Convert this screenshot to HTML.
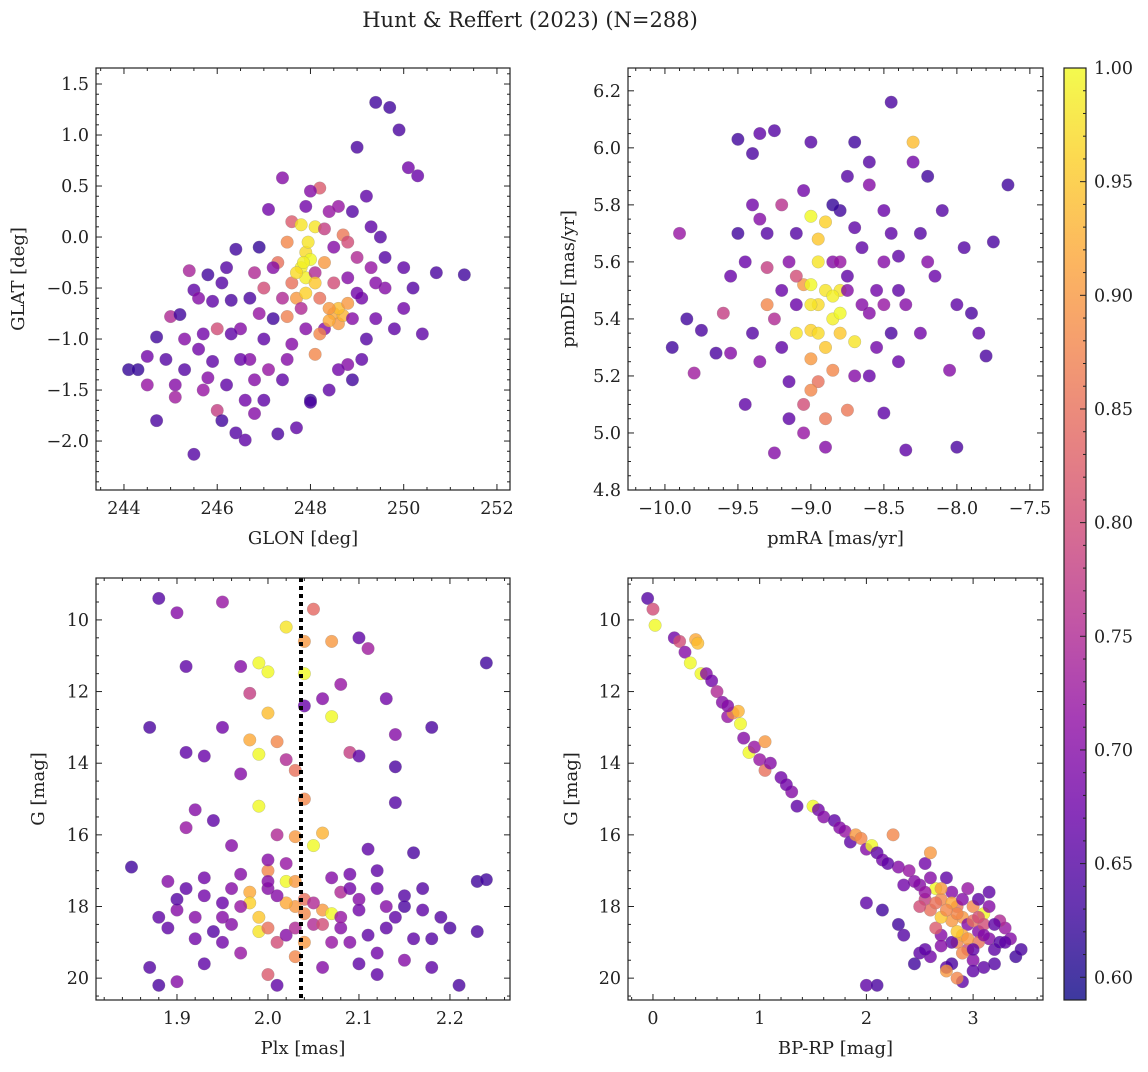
<!DOCTYPE html>
<html><head><meta charset="utf-8"><style>
body{margin:0;background:#fff;}
svg text{font-family:"DejaVu Serif","Liberation Serif",serif;fill:#222;}
</style></head><body>
<svg id="fig" width="1148" height="1067" viewBox="0 0 1148 1067" xmlns="http://www.w3.org/2000/svg">
<defs>
<linearGradient id="plasma" x1="0" y1="1" x2="0" y2="0">
<stop offset="0" stop-color="#0d0887"/><stop offset="0.1" stop-color="#41049d"/><stop offset="0.2" stop-color="#6a00a8"/><stop offset="0.3" stop-color="#8f0da4"/><stop offset="0.4" stop-color="#b12a90"/><stop offset="0.5" stop-color="#cc4778"/><stop offset="0.6" stop-color="#e16462"/><stop offset="0.7" stop-color="#f2844b"/><stop offset="0.8" stop-color="#fca636"/><stop offset="0.9" stop-color="#fcce25"/><stop offset="1" stop-color="#f0f921"/>
</linearGradient>
</defs>
<text x="530" y="27" font-size="21" text-anchor="middle">Hunt &amp; Reffert (2023) (N=288)</text>
</svg>
<script>
// ---- data ----
const p1Glon=[244.1,244.3,244.5,244.5,244.7,244.7,244.9,245.0,245.1,245.1,245.2,245.3,245.4,245.5,245.5,245.6,245.6,245.7,245.8,245.8,245.9,246.0,246.0,246.1,246.1,246.2,246.3,246.4,246.4,246.5,246.6,246.6,246.7,246.7,246.8,246.8,246.9,247.0,247.0,247.1,247.1,247.2,247.3,247.3,247.4,247.4,247.5,247.5,247.6,247.6,247.7,247.7,247.8,247.8,247.9,247.9,247.9,248.0,248.0,248.1,248.1,248.2,248.2,248.3,248.3,248.4,248.4,248.5,248.5,248.6,248.7,248.7,248.8,248.8,248.9,248.9,249.0,249.0,249.1,249.2,249.2,249.3,249.4,249.4,249.5,249.6,249.7,249.8,249.9,250.0,250.1,250.2,250.3,250.4,250.7,251.3,248.2,248.4,248.6,248.0,246.9,245.9,249.0,248.8,247.6,247.8,246.5,248.3,
247.2,247.4,247.9,248.1,248.5,248.9,249.3,249.6,248.6,247.9,246.3,246.8,245.7,247.0,248.6,249.1,247.5,250.0,246.2,248.0,247.85,247.95,247.7,248.1,248.4,248.8,245.3,249.4];
const p1Glat=[-1.3,-1.3,-1.17,-1.45,-0.98,-1.8,-1.2,-0.78,-1.45,-1.57,-0.76,-1.0,-0.33,-2.13,-0.52,-1.1,-0.6,-1.5,-0.37,-1.38,-0.63,-0.9,-1.7,-1.8,-0.45,-1.45,-0.62,-1.92,-0.12,-0.9,-1.6,-1.99,-1.2,-0.6,-1.73,-0.35,-0.1,-0.5,-1.0,0.27,-1.3,-0.8,-1.93,-0.25,-1.4,0.58,-0.05,-0.78,-1.05,0.15,-1.87,-0.6,0.12,-0.3,-0.15,-0.4,-0.55,-0.22,-1.6,0.1,-1.15,-0.6,0.48,-0.25,-0.9,0.25,-1.5,-0.75,-0.1,-0.85,-0.77,0.02,-0.4,-1.25,-1.4,0.25,0.88,-0.2,-0.6,-1.0,0.4,-0.3,1.32,-0.8,0.0,-0.5,1.27,-0.9,1.05,-0.3,0.68,-0.5,0.6,-0.95,-0.35,-0.37,-0.95,-0.82,-0.7,-1.62,-0.75,-1.22,-0.55,-0.05,-0.45,-0.7,-1.2,0.08,
-0.3,-0.6,-0.9,-0.35,-0.45,-0.8,0.1,-0.2,0.3,0.3,-0.95,-1.4,-0.95,-1.6,-1.3,-1.2,-1.2,-0.7,-0.3,0.45,-0.25,-0.05,-0.35,-0.45,-0.7,-0.65,-1.3,-0.45];
const p1Prob=[.62,.62,.68,.72,.63,.64,.65,.75,.7,.73,.63,.7,.74,.65,.66,.68,.7,.72,.63,.7,.66,.8,.78,.63,.65,.66,.64,.65,.63,.7,.68,.66,.7,.64,.7,.75,.62,.8,.66,.68,.72,.63,.64,.85,.66,.7,.88,.87,.7,.82,.66,.9,.98,.99,.97,.99,.96,1.0,.62,.98,.88,.85,.82,.9,.7,.72,.66,.92,.7,.9,.93,.86,.7,.7,.63,.65,.64,.75,.68,.65,.66,.72,.63,.68,.65,.7,.63,.66,.64,.66,.68,.65,.67,.66,.64,.63,.88,.92,.94,.64,.72,.66,.68,.8,.85,.75,.67,.78,
.7,.75,.7,.75,.8,.7,.66,.65,.72,.68,.66,.7,.68,.66,.68,.66,.7,.68,.65,.7,.99,.98,.97,.95,.9,.9,.65,.7];

const p2Pmra=[-9.95,-9.9,-9.85,-9.8,-9.75,-9.6,-9.55,-9.55,-9.5,-9.5,-9.45,-9.4,-9.4,-9.35,-9.35,-9.35,-9.3,-9.3,-9.25,-9.25,-9.2,-9.2,-9.15,-9.1,-9.1,-9.05,-9.05,-9.05,-9.0,-9.0,-9.0,-9.0,-8.95,-8.95,-8.95,-8.9,-8.9,-8.9,-8.9,-8.85,-8.85,-8.8,-8.8,-8.8,-8.75,-8.75,-8.7,-8.7,-8.65,-8.6,-8.6,-8.55,-8.5,-8.5,-8.45,-8.4,-8.4,-8.35,-8.3,-8.3,-8.25,-8.2,-8.15,-8.1,-8.05,-8.0,-7.95,-7.9,-7.85,-7.8,-7.75,-7.65,-8.35,-8.0,-8.45,-8.75,-9.15,-8.6,-8.85,-9.1,-8.5,-8.7,-9.4,-8.2,-8.5,-9.65,-9.2,-8.95,-8.85,-9.0,-8.8,
-9.0,-8.95,-8.85,-9.1,-8.8,-8.65,-9.25,-8.7,-8.4,-9.45,-8.25,-8.6,-9.0,-8.9,-9.05,-8.45,-9.3,-8.75,-8.55,-9.15];
const p2Pmde=[5.3,5.7,5.4,5.21,5.36,5.42,5.28,5.55,6.03,5.7,5.1,5.35,5.98,6.05,5.75,5.25,5.45,5.58,4.93,6.06,5.5,5.8,5.18,5.35,5.7,5.52,5.1,5.0,5.76,5.36,5.26,6.02,5.68,5.45,5.18,5.74,5.5,5.3,4.95,5.4,5.6,5.35,5.42,5.78,5.08,5.55,5.32,6.02,5.65,5.2,5.87,5.5,5.78,5.07,5.35,5.62,5.25,5.45,5.95,6.02,5.7,5.9,5.55,5.78,5.22,5.45,5.65,5.42,5.35,5.27,5.67,5.87,4.94,4.95,6.16,5.9,5.6,5.42,5.22,5.45,5.6,5.72,5.8,5.6,5.45,5.28,5.3,5.6,5.8,5.52,5.5,
5.45,5.35,5.48,5.55,5.6,5.45,5.4,5.2,5.5,5.6,5.35,5.95,5.15,5.05,5.85,5.7,5.7,5.5,5.3,5.05];
const p2Prob=[.63,.72,.63,.73,.64,.78,.7,.67,.63,.63,.66,.65,.64,.66,.7,.7,.88,.78,.7,.65,.67,.76,.66,.98,.65,.9,.8,.72,1.0,.96,.9,.65,.95,.97,.85,.96,.98,.95,.7,.99,.7,.95,1.0,.63,.86,.66,.98,.63,.66,.67,.7,.68,.67,.66,.64,.66,.67,.7,.68,.94,.65,.63,.67,.65,.7,.66,.65,.64,.66,.64,.64,.63,.66,.64,.64,.65,.7,.7,.88,.67,.7,.66,.68,.7,.72,.64,.66,.98,.62,1.0,.98,
.98,.97,.99,.8,.72,.7,.75,.7,.66,.67,.68,.65,.88,.86,.68,.66,.65,.7,.68,.66];

const p3Plx=[1.88,1.9,1.95,2.02,2.05,2.04,2.07,1.99,2.0,1.91,1.97,2.04,2.1,2.11,2.24,1.98,2.0,2.08,2.07,2.04,2.13,1.87,1.95,2.01,1.98,2.09,2.06,2.18,2.14,1.91,1.93,1.99,2.02,2.03,2.1,2.14,1.97,1.92,1.99,2.04,2.14,1.91,1.94,1.96,2.01,2.03,2.06,2.05,1.85,1.89,1.91,1.93,1.95,1.97,1.98,2.0,2.0,2.02,2.03,2.04,2.06,2.07,2.08,2.09,2.1,2.11,2.12,2.13,2.14,2.15,2.16,2.17,2.19,2.2,2.23,2.24,2.23,1.88,1.9,1.92,1.94,1.96,1.99,2.01,2.02,2.04,2.05,2.07,2.08,2.1,2.12,2.15,2.18,2.21,1.88,1.9,1.87,1.93,2.0,2.01,2.06,2.12,1.99,2.02,1.97,2.03,2.09,1.95,2.16,
1.93,1.96,1.98,2.0,2.01,2.03,2.05,2.06,2.08,2.1,2.11,2.12,2.13,1.9,1.92,1.95,1.97,2.0,2.02,2.07,2.15,2.18,1.89,2.04,2.09,2.03,2.17,2.0];
const p3G=[9.4,9.8,9.5,10.2,9.7,10.6,10.6,11.2,11.45,11.3,11.3,11.5,10.5,10.8,11.2,12.05,12.6,11.8,12.7,12.4,12.2,13.0,13.0,13.4,13.35,13.7,12.2,13.0,13.2,13.7,13.8,13.75,13.9,14.2,13.8,14.1,14.3,15.3,15.2,15.0,15.1,15.8,15.6,16.3,16.0,16.05,15.95,16.3,16.9,17.3,17.5,17.7,17.9,17.1,17.6,17.5,17.0,17.3,18.0,17.8,18.1,18.2,17.6,17.1,17.8,16.4,17.5,18.0,18.3,17.7,16.5,18.1,18.3,18.6,17.3,17.25,18.7,18.3,18.1,18.9,18.7,18.5,18.3,19.0,18.8,19.0,18.5,19.0,18.6,19.6,19.3,19.5,19.7,20.2,20.2,20.1,19.7,19.6,19.9,20.2,19.7,19.9,18.7,17.9,19.3,19.4,19.0,18.3,18.9,
17.2,17.5,17.9,18.6,17.7,17.3,17.9,18.5,18.3,18.1,18.8,17.0,18.6,17.8,18.3,19.0,18.0,17.3,16.8,17.2,18.0,18.9,18.6,18.2,17.5,18.6,17.5,16.7];
const p3Prob=[.65,.7,.72,.98,.84,.9,.9,1.0,1.0,.66,.7,1.0,.66,.73,.63,.78,.94,.72,1.0,.67,.68,.64,.68,.88,.92,.78,.7,.64,.7,.66,.67,1.0,.75,.85,.66,.64,.7,.7,1.0,.88,.65,.72,.66,.7,.75,.9,.93,1.0,.63,.7,.66,.68,.67,.7,.92,.7,.88,1.0,.9,.85,.9,1.0,.75,.68,.7,.66,.67,.7,.66,.65,.64,.66,.65,.64,.63,.63,.64,.66,.7,.68,.65,.7,.95,.8,.7,.9,.75,.72,.7,.66,.68,.7,.66,.64,.64,.7,.65,.66,.82,.66,.7,.66,.98,.92,.72,.88,.7,.7,.66,
.68,.7,.96,.85,.7,.9,.75,.8,.72,.68,.66,.66,.66,.65,.7,.68,.72,.7,.72,.7,.64,.65,.66,.88,.68,.75,.65,.7];
const p3Line=2.0363;

const p4Bprp=[-0.05,0.0,0.02,0.2,0.25,0.3,0.35,0.4,0.42,0.45,0.5,0.55,0.6,0.65,0.7,0.75,0.8,0.82,0.85,0.9,0.95,1.0,1.05,1.05,1.1,1.2,1.3,1.35,1.5,1.55,1.6,1.7,1.8,1.85,1.9,1.95,2.0,2.05,2.1,2.15,2.25,2.3,2.4,2.5,2.55,2.6,2.65,2.7,2.75,2.8,2.85,2.9,2.95,3.0,3.05,3.1,3.15,3.2,3.3,3.4,3.45,2.0,2.15,2.3,2.35,2.45,2.5,2.6,2.7,2.75,2.8,2.9,2.95,3.0,3.05,3.1,3.2,3.25,2.85,2.65,2.55,2.95,3.05,2.8,3.15,2.0,2.1,2.75,2.85,3.0,2.6,2.7,2.9,3.1,2.55,3.35,
2.6,2.7,2.8,2.85,2.9,3.0,2.95,3.1,3.2,3.25,2.75,2.65,2.9,3.0,2.8,3.15,3.3,2.5,2.45,2.55,2.35,2.2,1.75,1.25,0.7,2.85,3.05,2.7];
const p4G=[9.4,9.7,10.15,10.5,10.6,10.9,11.2,10.55,10.65,11.5,11.5,11.7,12.0,12.3,12.7,12.6,12.55,12.9,13.3,13.7,13.55,13.9,13.4,14.2,14.0,14.4,14.8,15.2,15.2,15.3,15.5,15.6,15.9,16.2,16.0,16.1,16.4,16.3,16.5,16.7,16.0,16.9,17.0,17.4,16.8,16.5,17.5,17.8,17.2,17.6,18.0,18.3,18.5,18.0,18.7,18.2,18.9,19.2,18.6,19.4,19.2,17.9,18.1,18.5,18.8,19.6,19.3,19.4,18.8,19.7,19.6,20.1,19.2,19.5,19.0,19.7,19.6,18.4,19.0,18.6,17.8,17.5,17.8,18.4,18.0,20.2,20.2,19.8,20.0,19.8,18.1,18.3,18.8,18.5,19.2,18.9,
17.2,17.5,17.9,18.2,17.8,18.4,18.9,18.8,18.5,19.0,18.1,17.9,19.3,19.2,19.0,17.6,19.0,18.0,17.3,17.6,17.4,16.8,15.8,14.6,12.4,18.7,18.3,19.1];
const p4Prob=[.65,.8,1.0,.68,.8,.7,1.0,.92,.94,1.0,.7,.68,.75,.7,.72,.88,.93,1.0,.7,1.0,.72,.72,.9,.85,.7,.68,.7,.66,1.0,.68,.7,.66,.72,.66,.9,.88,.7,1.0,.66,.68,.88,.7,.72,.7,.68,.9,1.0,.88,.66,.7,.85,.9,.7,.88,.7,1.0,.7,.66,.72,.63,.64,.66,.63,.63,.65,.63,.66,.68,.7,.66,.64,.66,.8,.7,.85,.66,.65,.75,.88,.82,.78,.72,.66,.9,.7,.66,.64,.9,.88,.66,.85,.95,.92,.8,.66,.7,
.7,.9,.92,.88,.7,.85,.9,.7,.66,.65,.88,.85,.88,.66,.66,.66,.66,.8,.7,.72,.68,.66,.7,.68,.7,.95,.8,.7];

const cbTicks=[0.60,0.65,0.70,0.75,0.80,0.85,0.90,0.95,1.00];

// ---- rendering ----
const NS='http://www.w3.org/2000/svg';
const svg=document.getElementById('fig');
function mk(tag,attrs,parent){const e=document.createElementNS(NS,tag);for(const k in attrs)e.setAttribute(k,attrs[k]);(parent||svg).appendChild(e);return e;}
const stops=[[0,[13,8,135]],[.1,[65,4,157]],[.2,[106,0,168]],[.3,[143,13,164]],[.4,[177,42,144]],[.5,[204,71,120]],[.6,[225,100,98]],[.7,[242,132,75]],[.8,[252,166,54]],[.9,[252,206,37]],[1,[240,249,33]]];
const VMIN=0.59,VMAX=1.0;
function cmap(v){let t=(v-VMIN)/(VMAX-VMIN);t=Math.max(0,Math.min(1,t));for(let i=1;i<stops.length;i++){if(t<=stops[i][0]){const a=stops[i-1],b=stops[i];const f=(t-a[0])/(b[0]-a[0]);const c=a[1].map((x,j)=>Math.round(x+(b[1][j]-x)*f));return `rgb(${c})`;}}return 'rgb(240,249,33)';}
function fmt(v,d){return v.toFixed(d).replace('-','\u2212');}
const TFS=17.5, LFS=18;

function panel(cfg){
  const {name,x0,x1,y0,y1,xmin,xmax,ymin,ymax,invertY}=cfg;
  const g=mk('g',{});
  
  
  const sx=v=>x0+(v-xmin)/(xmax-xmin)*(x1-x0);
  const sy=v=>invertY? y0+(v-ymin)/(ymax-ymin)*(y1-y0) : y1-(v-ymin)/(ymax-ymin)*(y1-y0);
  const pg=mk('g',{},g);
  
  
  cfg.xs.forEach((xv,i)=>{
    const c=mk('circle',{cx:sx(xv),cy:sy(cfg.ys[i]),r:6.3,fill:cmap(cfg.ps[i]),'fill-opacity':0.8,stroke:'#888','stroke-width':0.4,'stroke-opacity':0.6},pg);
    
    
  });
  if(cfg.vline!==undefined){
    const l=mk('line',{x1:sx(cfg.vline),x2:sx(cfg.vline),y1:y0,y2:y1,stroke:'#000','stroke-width':4,'stroke-dasharray':'4 4'},g);
    
    
  }
  const fr=mk('rect',{x:x0,y:y0,width:x1-x0,height:y1-y0,fill:'none',stroke:'#222','stroke-width':1.2},g);
  
  
  const eps=1e-9;
  for(let v=Math.ceil(xmin/cfg.xminor-eps)*cfg.xminor; v<=xmax+eps; v+=cfg.xminor){
    const X=sx(v);const major=Math.abs(v/cfg.xmajor-Math.round(v/cfg.xmajor))<1e-6;const L=major?6:3;
    mk('line',{x1:X,x2:X,y1:y1,y2:y1-L,stroke:'#222','stroke-width':1},g);
    mk('line',{x1:X,x2:X,y1:y0,y2:y0+L,stroke:'#222','stroke-width':1},g);
    if(major){const t=mk('text',{x:X,y:y1+24,'font-size':TFS,'text-anchor':'middle'},g);t.textContent=fmt(v,cfg.xdec);
      }
  }
  const ylo=Math.min(ymin,ymax),yhi=Math.max(ymin,ymax);
  for(let v=Math.ceil(ylo/cfg.yminor-eps)*cfg.yminor; v<=yhi+eps; v+=cfg.yminor){
    const Y=sy(v);const major=Math.abs(v/cfg.ymajor-Math.round(v/cfg.ymajor))<1e-6;const L=major?6:3;
    mk('line',{x1:x0,x2:x0+L,y1:Y,y2:Y,stroke:'#222','stroke-width':1},g);
    mk('line',{x1:x1,x2:x1-L,y1:Y,y2:Y,stroke:'#222','stroke-width':1},g);
    if(major){const t=mk('text',{x:x0-7,y:Y+6,'font-size':TFS,'text-anchor':'end'},g);t.textContent=fmt(v,cfg.ydec);
      }
  }
  const xl=mk('text',{x:(x0+x1)/2,y:y1+54,'font-size':LFS,'text-anchor':'middle'},g);xl.textContent=cfg.xlabel;
  
  const yx=cfg.ylx, yy=(y0+y1)/2;
  const yl=mk('text',{x:yx,y:yy,'font-size':LFS,'text-anchor':'middle',transform:`rotate(-90 ${yx} ${yy})`},g);yl.textContent=cfg.ylabel;
  
}

panel({name:'glon-glat-panel',x0:96,x1:510,y0:68,y1:490,xmin:243.4,xmax:252.28,ymin:-2.48,ymax:1.657,xs:p1Glon,ys:p1Glat,ps:p1Prob,xmajor:2,xminor:0.5,xdec:0,ymajor:0.5,yminor:0.1,ydec:1,xlabel:'GLON [deg]',ylabel:'GLAT [deg]',ylx:24});
panel({name:'proper-motion-panel',x0:628,x1:1043,y0:68,y1:490,xmin:-10.253,xmax:-7.41,ymin:4.8,ymax:6.28,xs:p2Pmra,ys:p2Pmde,ps:p2Prob,xmajor:0.5,xminor:0.1,xdec:1,ymajor:0.2,yminor:0.05,ydec:1,xlabel:'pmRA [mas/yr]',ylabel:'pmDE [mas/yr]',ylx:574});
panel({name:'parallax-mag-panel',x0:96,x1:510,y0:578,y1:1000,xmin:1.811,xmax:2.266,ymin:8.83,ymax:20.61,invertY:true,xs:p3Plx,ys:p3G,ps:p3Prob,vline:p3Line,xmajor:0.1,xminor:0.02,xdec:1,ymajor:2,yminor:0.5,ydec:0,xlabel:'Plx [mas]',ylabel:'G [mag]',ylx:44});
panel({name:'cmd-panel',x0:628,x1:1043,y0:578,y1:1000,xmin:-0.234,xmax:3.655,ymin:8.83,ymax:20.61,invertY:true,xs:p4Bprp,ys:p4G,ps:p4Prob,xmajor:1,xminor:0.2,xdec:0,ymajor:2,yminor:0.5,ydec:0,xlabel:'BP-RP [mag]',ylabel:'G [mag]',ylx:577});

const cb=mk('g',{});


const cx0=1064,cx1=1086,cy0=68,cy1=1000;
mk('rect',{x:cx0,y:cy0,width:cx1-cx0,height:cy1-cy0,fill:'url(#plasma)','fill-opacity':0.8},cb);
mk('rect',{x:cx0,y:cy0,width:cx1-cx0,height:cy1-cy0,fill:'none',stroke:'#222','stroke-width':1.2},cb);
const cyv=v=>cy1-(v-VMIN)/(VMAX-VMIN)*(cy1-cy0);
for(let v=0.59;v<=1.0001;v+=0.01){const Y=cyv(v);const major=Math.abs(v*20-Math.round(v*20))<1e-6;
  mk('line',{x1:cx1,x2:cx1-(major?6:3),y1:Y,y2:Y,stroke:'#222','stroke-width':1},cb);}
cbTicks.forEach(v=>{const t=mk('text',{x:cx1+8,y:cyv(v)+6,'font-size':TFS},cb);t.textContent=v.toFixed(2);
  });
</script>
</body></html>
